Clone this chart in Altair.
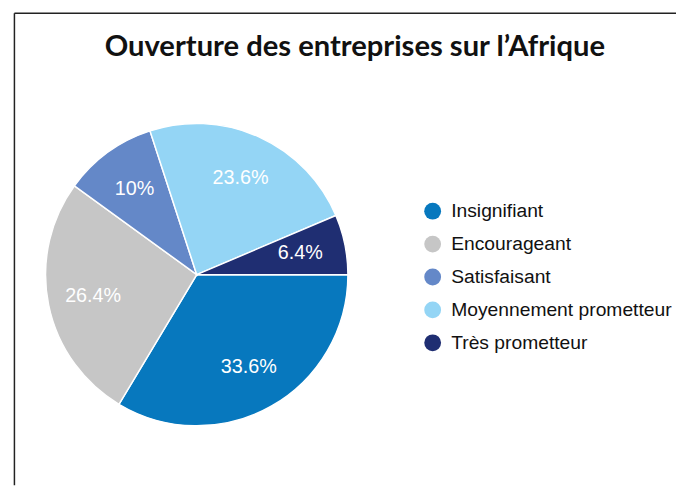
import math
import altair as alt
import pandas as pd

categories = ["Insignifiant", "Encourageant", "Satisfaisant", "Moyennement prometteur", "Très prometteur"]
values = [33.6, 26.4, 10.0, 23.6, 6.4]
labels = ["33.6%", "26.4%", "10%", "23.6%", "6.4%"]
colors = ["#0778BE", "#C6C6C6", "#6488C8", "#94D5F5", "#1F2E72"]
title_text = "Ouverture des entreprises sur l\u2019Afrique"

df = pd.DataFrame({
    "categorie": categories,
    "valeur": values,
    "etiquette": labels,
    "ordre": list(range(len(categories))),
})

CX, CY, R = 191, 267, 153

theta = alt.Theta("valeur:Q", stack=True,
                  scale=alt.Scale(range=[math.pi / 2, math.pi / 2 + 2 * math.pi]))
color = alt.Color("categorie:N",
                  scale=alt.Scale(domain=categories, range=colors),
                  sort=categories,
                  legend=alt.Legend(title=None, orient="none", legendX=420, legendY=193,
                                    symbolType="circle", symbolSize=290,
                                    symbolStrokeWidth=0, symbolOpacity=1,
                                    labelFont="Liberation Sans", labelFontSize=19.5,
                                    labelColor="#111111", labelOffset=9,
                                    rowPadding=12.3, padding=0, labelLimit=400))

base = alt.Chart(df).encode(
    theta=theta,
    order=alt.Order("ordre:Q"),
)

arcs = base.mark_arc(outerRadius=R, stroke="white", strokeWidth=1.5).encode(
    color=color, x=alt.value(CX), y=alt.value(CY))

texts = base.mark_text(radius=107, fontSize=20, font="Liberation Sans", color="white").encode(
    text="etiquette:N", x=alt.value(CX), y=alt.value(CY))

one = pd.DataFrame({"t": [title_text]})
title = alt.Chart(one).mark_text(font="Lato", fontWeight="bold", fontSize=29.5,
                                 color="#111111", baseline="alphabetic").encode(
    text="t:N", x=alt.value(351), y=alt.value(46))

vline = alt.Chart(one).mark_rule(color="#222222", strokeWidth=1.5).encode(
    x=alt.value(6.5), y=alt.value(2.5), y2=alt.value(480))
hline = alt.Chart(one).mark_rule(color="#222222", strokeWidth=1.5).encode(
    x=alt.value(6.5), x2=alt.value(680), y=alt.value(2.5))

chart = alt.layer(arcs, texts, title, vline, hline).properties(
    width=676, height=478, padding=0,
    autosize=alt.AutoSizeParams(type="none"),
).configure_view(stroke=None)

chart.save("out.html", embed_options={"renderer": "svg", "actions": False})
